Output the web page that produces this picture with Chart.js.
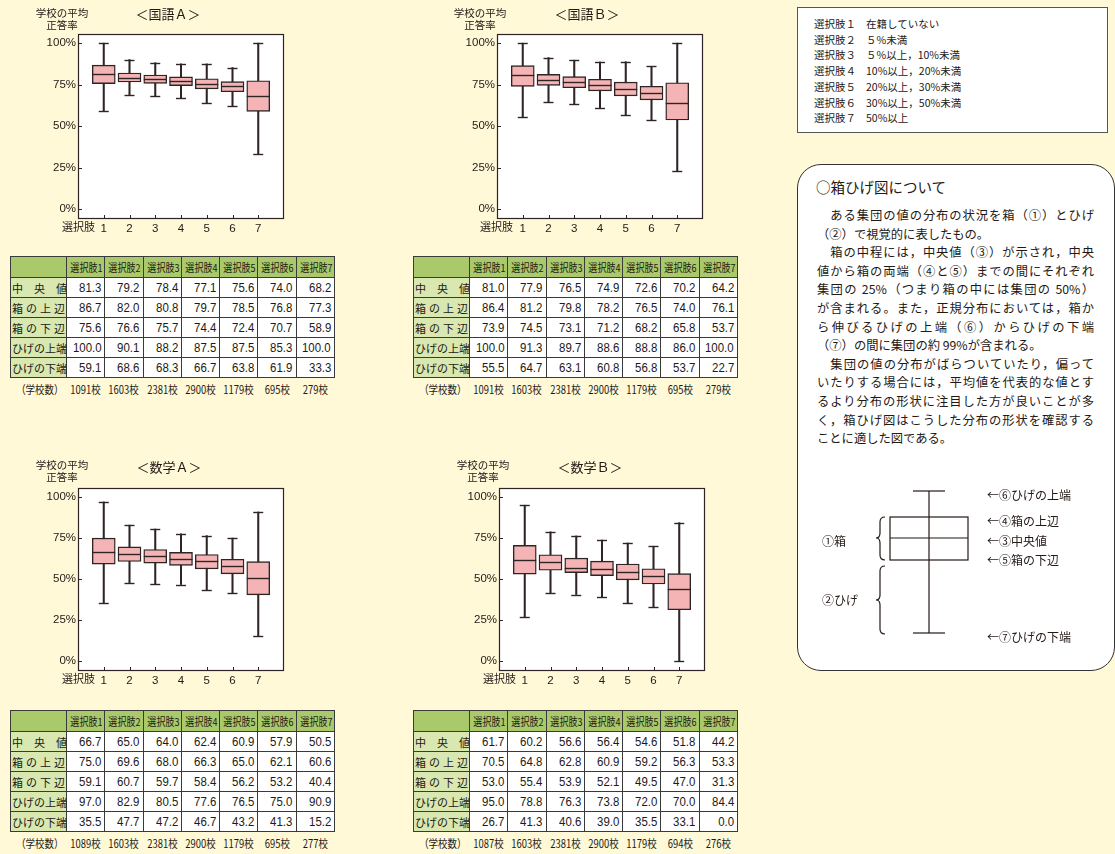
<!DOCTYPE html>
<html lang="ja">
<head>
<meta charset="utf-8">
<script src="https://cdn.jsdelivr.net/npm/chart.js@4.4.1/dist/chart.umd.min.js"></script>
<style>
  body { margin:0; width:1115px; height:854px; background:#fff9d8; position:relative; overflow:hidden;
         font-family:"Noto Sans CJK JP", sans-serif; color:#231815; }
  .chartbox { position:absolute; width:300px; height:240px; }
  .ylab { position:absolute; width:70px; font-size:10.5px; line-height:12px; text-align:center; }
  .ttl { position:absolute; width:100px; font-size:13px; line-height:16px; text-align:center; }
  .xlab { position:absolute; font-size:11px; line-height:13px; }
  table.data { position:absolute; width:325px; border-collapse:collapse; table-layout:fixed; }
  table.data th, table.data td { border:1px solid #3a3a3a; padding:0; height:19px; overflow:visible; }
  table.data th.hd { background:#a9c96b; font-weight:normal; font-size:11px; height:20px; text-align:center; white-space:nowrap; }
  table.data th.hd span { display:inline-block; width:100%; text-align:center; transform:scaleX(0.82); white-space:nowrap; }
  table.data th.corner { background:#a9c96b; }
  table.data th.rh { background:#d8e8b0; font-weight:normal; font-size:11px; text-align:justify; text-align-last:justify; padding:0 1px; white-space:nowrap; }
  table.data td.v { background:#fff; text-align:right; padding-right:3px; font-family:"Liberation Sans", Arial, sans-serif; font-size:13px; white-space:nowrap; }
  table.data td.v span { display:inline-block; transform:scaleX(0.88); transform-origin:right center; }
  table.data tr.cnt td { border:none; font-size:11.5px; text-align:center; height:21px; background:transparent; white-space:nowrap; }
  table.data tr.cnt td span { display:inline-block; transform:scaleX(0.82); }
  #legendbox { position:absolute; left:797px; top:7px; width:309px; height:124px; background:#fff; border:1px solid #555; }
  #legendbox .ln { position:absolute; left:16px; font-size:10.5px; line-height:14px; white-space:nowrap; }
  #legendbox .ln span { display:inline-block; width:52px; }
  #explain { position:absolute; left:797px; top:164px; width:318px; height:507px; background:#fff; border:1px solid #333; border-radius:24px; box-sizing:border-box; }
  #explain .h { position:absolute; left:18px; top:13px; font-size:14.5px; line-height:18px; }
  #explain .para { position:absolute; left:19px; top:41px; width:277px; font-size:12.3px; line-height:18.6px; }
  #explain .para div { text-align:justify; text-align-last:justify; white-space:nowrap; }
  #explain .para div.end { text-align-last:left; }
  svg#diagram { position:absolute; left:0; top:0; }
  svg#diagram text { font-family:"Noto Sans CJK JP", sans-serif; font-size:12px; fill:#231815; dominant-baseline:central; }
</style>
</head>
<body>

<!-- charts -->
<canvas id="kA" class="chartbox" width="300" height="240" style="left:0;top:0"></canvas>
<canvas id="kB" class="chartbox" width="300" height="240" style="left:419px;top:0"></canvas>
<canvas id="mA" class="chartbox" width="300" height="240" style="left:0;top:454px"></canvas>
<canvas id="mB" class="chartbox" width="300" height="240" style="left:421px;top:454px"></canvas>

<div class="ylab" style="left:27px;top:7px">学校の平均<br>正答率</div>
<div class="ylab" style="left:445px;top:7px">学校の平均<br>正答率</div>
<div class="ylab" style="left:27px;top:459px">学校の平均<br>正答率</div>
<div class="ylab" style="left:448px;top:459px">学校の平均<br>正答率</div>

<div class="ttl" style="left:118px;top:6px">＜国語Ａ＞</div>
<div class="ttl" style="left:537px;top:6px">＜国語Ｂ＞</div>
<div class="ttl" style="left:119px;top:459px">＜数学Ａ＞</div>
<div class="ttl" style="left:540px;top:459px">＜数学Ｂ＞</div>

<div class="xlab" style="left:62px;top:220px">選択肢</div>
<div class="xlab" style="left:480px;top:220px">選択肢</div>
<div class="xlab" style="left:62px;top:672px">選択肢</div>
<div class="xlab" style="left:483px;top:672px">選択肢</div>

<table class="data" id="tkA" style="left:10px;top:256px"></table>
<table class="data" id="tkB" style="left:413px;top:256px"></table>
<table class="data" id="tmA" style="left:10px;top:710px"></table>
<table class="data" id="tmB" style="left:413px;top:710px"></table>

<div id="legendbox"></div>

<div id="explain">
  <div class="h">○箱ひげ図について</div>
  <div class="para">
    <div>　ある集団の値の分布の状況を箱（①）とひげ</div>
    <div class="end">（②）で視覚的に表したもの。</div>
    <div>　箱の中程には，中央値（③）が示され，中央</div>
    <div>値から箱の両端（④と⑤）までの間にそれぞれ</div>
    <div>集団の 25%（つまり箱の中には集団の 50%）</div>
    <div>が含まれる。また，正規分布においては，箱か</div>
    <div>ら伸びるひげの上端（⑥）からひげの下端</div>
    <div class="end">（⑦）の間に集団の約 99%が含まれる。</div>
    <div>　集団の値の分布がばらついていたり，偏って</div>
    <div>いたりする場合には，平均値を代表的な値とす</div>
    <div>るより分布の形状に注目した方が良いことが多</div>
    <div>く，箱ひげ図はこうした分布の形状を確認する</div>
    <div class="end">ことに適した図である。</div>
  </div>
</div>

<svg id="diagram" width="1115" height="854">
  <g stroke="#231815" stroke-width="1.2" fill="none">
    <line x1="929" y1="491" x2="929" y2="633"/>
    <line x1="913" y1="491" x2="945" y2="491"/>
    <line x1="913" y1="633" x2="945" y2="633"/>
    <rect x="890" y="517" width="78" height="43"/>
    <line x1="890" y1="538" x2="968" y2="538"/>
    <path d="M885,517 Q880,517 880,522 L880,533 Q880,538 876,538 Q880,538 880,543 L880,555 Q880,560 885,560"/>
    <path d="M885,566 Q880,566 880,571 L880,595 Q880,600 876,600 Q880,600 880,605 L880,629 Q880,634 885,634"/>
  </g>
  <text x="822" y="540">①箱</text>
  <text x="822" y="599">②ひげ</text>
  <text x="987" y="494">←⑥ひげの上端</text>
  <text x="987" y="520">←④箱の上辺</text>
  <text x="987" y="540">←③中央値</text>
  <text x="987" y="559">←⑤箱の下辺</text>
  <text x="987" y="636">←⑦ひげの下端</text>
</svg>

<script>
// categories / labels
const choices = ['1', '2', '3', '4', '5', '6', '7'];
const colHeads = ['選択肢1', '選択肢2', '選択肢3', '選択肢4', '選択肢5', '選択肢6', '選択肢7'];
const rowLabels = ['中　央　値', '箱の上辺', '箱の下辺', 'ひげの上端', 'ひげの下端'];
const yTicks = [0, 25, 50, 75, 100];
const choiceDescs = ['在籍していない', '５%未満', '５%以上，10%未満', '10%以上，20%未満',
                     '20%以上，30%未満', '30%以上，50%未満', '50%以上'];

// 国語A
const kokugoA_median = [81.3, 79.2, 78.4, 77.1, 75.6, 74.0, 68.2];
const kokugoA_q3     = [86.7, 82.0, 80.8, 79.7, 78.5, 76.8, 77.3];
const kokugoA_q1     = [75.6, 76.6, 75.7, 74.4, 72.4, 70.7, 58.9];
const kokugoA_max    = [100.0, 90.1, 88.2, 87.5, 87.5, 85.3, 100.0];
const kokugoA_min    = [59.1, 68.6, 68.3, 66.7, 63.8, 61.9, 33.3];
const kokugoA_n      = [1091, 1603, 2381, 2900, 1179, 695, 279];

// 国語B
const kokugoB_median = [81.0, 77.9, 76.5, 74.9, 72.6, 70.2, 64.2];
const kokugoB_q3     = [86.4, 81.2, 79.8, 78.2, 76.5, 74.0, 76.1];
const kokugoB_q1     = [73.9, 74.5, 73.1, 71.2, 68.2, 65.8, 53.7];
const kokugoB_max    = [100.0, 91.3, 89.7, 88.6, 88.8, 86.0, 100.0];
const kokugoB_min    = [55.5, 64.7, 63.1, 60.8, 56.8, 53.7, 22.7];
const kokugoB_n      = [1091, 1603, 2381, 2900, 1179, 695, 279];

// 数学A
const sugakuA_median = [66.7, 65.0, 64.0, 62.4, 60.9, 57.9, 50.5];
const sugakuA_q3     = [75.0, 69.6, 68.0, 66.3, 65.0, 62.1, 60.6];
const sugakuA_q1     = [59.1, 60.7, 59.7, 58.4, 56.2, 53.2, 40.4];
const sugakuA_max    = [97.0, 82.9, 80.5, 77.6, 76.5, 75.0, 90.9];
const sugakuA_min    = [35.5, 47.7, 47.2, 46.7, 43.2, 41.3, 15.2];
const sugakuA_n      = [1089, 1603, 2381, 2900, 1179, 695, 277];

// 数学B
const sugakuB_median = [61.7, 60.2, 56.6, 56.4, 54.6, 51.8, 44.2];
const sugakuB_q3     = [70.5, 64.8, 62.8, 60.9, 59.2, 56.3, 53.3];
const sugakuB_q1     = [53.0, 55.4, 53.9, 52.1, 49.5, 47.0, 31.3];
const sugakuB_max    = [95.0, 78.8, 76.3, 73.8, 72.0, 70.0, 84.4];
const sugakuB_min    = [26.7, 41.3, 40.6, 39.0, 35.5, 33.1, 0.0];
const sugakuB_n      = [1087, 1603, 2381, 2900, 1179, 694, 276];

const INK = '#2e2424';
const tickFont = { family: '"Liberation Sans", Arial, sans-serif', size: 11.5 };

// median line, whisker caps, white plot area, frame, inward tick marks
const boxExtras = (median, max, min) => ({
  id: 'boxExtras',
  beforeDatasetsDraw(c) {
    const a = c.chartArea, ctx = c.ctx;
    ctx.save();
    ctx.fillStyle = '#fff';
    ctx.fillRect(a.left, a.top, a.right - a.left, a.bottom - a.top);
    ctx.restore();
  },
  afterDatasetsDraw(c) {
    const ctx = c.ctx, xs = c.scales.x, ys = c.scales.y;
    const bars = c.getDatasetMeta(0).data;
    ctx.save();
    ctx.strokeStyle = INK;
    ctx.lineWidth = 1.4;
    median.forEach((m, i) => {
      const x = xs.getPixelForValue(i + 1);
      const hw = bars[i].width / 2;
      const seg = (x1, x2, v) => {
        const y = Math.round(ys.getPixelForValue(v)) + 0.5;
        ctx.beginPath(); ctx.moveTo(x1, y); ctx.lineTo(x2, y); ctx.stroke();
      };
      seg(x - hw, x + hw, m);
      seg(x - 5, x + 5, max[i]);
      seg(x - 5, x + 5, min[i]);
    });
    ctx.restore();
  },
  afterDraw(c) {
    const a = c.chartArea, ctx = c.ctx, xs = c.scales.x, ys = c.scales.y;
    ctx.save();
    ctx.strokeStyle = INK;
    ctx.lineWidth = 1.2;
    ctx.strokeRect(a.left + 0.5, a.top + 0.5, a.right - a.left - 1, a.bottom - a.top - 1);
    ctx.lineWidth = 1;
    ctx.beginPath();
    yTicks.forEach(v => {
      const y = Math.round(ys.getPixelForValue(v)) + 0.5;
      ctx.moveTo(a.left, y); ctx.lineTo(a.left + 4, y);
    });
    choices.forEach(ch => {
      const x = Math.round(xs.getPixelForValue(+ch)) + 0.5;
      ctx.moveTo(x, a.bottom); ctx.lineTo(x, a.bottom - 4);
    });
    ctx.stroke();
    ctx.restore();
  }
});

function makeChart(id, median, q3, q1, max, min, axisH) {
  const boxes = q1.map((v, i) => ({ x: +choices[i], y: [v, q3[i]] }));
  const whiskers = min.map((v, i) => ({ x: +choices[i], y: [v, max[i]] }));
  return new Chart(document.getElementById(id), {
    type: 'bar',
    data: {
      datasets: [
        { data: boxes, backgroundColor: '#f4b3b5', borderColor: INK, borderWidth: 1.4,
          borderSkipped: false, barThickness: 23, grouped: false, order: 0 },
        { data: whiskers, backgroundColor: INK, borderWidth: 0,
          barThickness: 1.4, grouped: false, order: 1 }
      ]
    },
    options: {
      responsive: false,
      animation: false,
      events: [],
      layout: { padding: { top: 34, right: 16, left: 0, bottom: 0 } },
      plugins: { legend: { display: false }, tooltip: { enabled: false } },
      scales: {
        x: {
          type: 'linear', min: 0, max: 8, offset: false,
          grid: { display: false, drawTicks: false }, border: { display: false },
          afterBuildTicks: ax => { ax.ticks = choices.map(ch => ({ value: +ch })); },
          afterFit: ax => { ax.height = axisH; },
          ticks: { padding: 3, font: tickFont, color: '#231815', autoSkip: false, maxRotation: 0,
                   callback: v => String(v) }
        },
        y: {
          min: -6, max: 105.5,
          grid: { display: false, drawTicks: false }, border: { display: false },
          afterBuildTicks: ax => { ax.ticks = yTicks.map(v => ({ value: v })); },
          afterFit: ax => { ax.width = 78; },
          ticks: { padding: 2, font: tickFont, color: '#231815', callback: v => v + '%' }
        }
      }
    },
    plugins: [boxExtras(median, max, min)]
  });
}

makeChart('kA', kokugoA_median, kokugoA_q3, kokugoA_q1, kokugoA_max, kokugoA_min, 21);
makeChart('kB', kokugoB_median, kokugoB_q3, kokugoB_q1, kokugoB_max, kokugoB_min, 21);
makeChart('mA', sugakuA_median, sugakuA_q3, sugakuA_q1, sugakuA_max, sugakuA_min, 23);
makeChart('mB', sugakuB_median, sugakuB_q3, sugakuB_q1, sugakuB_max, sugakuB_min, 23);

function buildTable(id, median, q3, q1, max, min, counts) {
  const rows = [median, q3, q1, max, min];
  let html = '<colgroup><col style="width:56px">' + colHeads.map(() => '<col>').join('') + '</colgroup>';
  html += '<tr><th class="corner"></th>' + colHeads.map(h => `<th class="hd"><span>${h}</span></th>`).join('') + '</tr>';
  rows.forEach((r, k) => {
    html += `<tr><th class="rh">${rowLabels[k]}</th>` + r.map(v => `<td class="v"><span>${v.toFixed(1)}</span></td>`).join('') + '</tr>';
  });
  html += '<tr class="cnt"><td><span>（学校数）</span></td>' + counts.map(n => `<td><span>${n}校</span></td>`).join('') + '</tr>';
  document.getElementById(id).innerHTML = html;
}

buildTable('tkA', kokugoA_median, kokugoA_q3, kokugoA_q1, kokugoA_max, kokugoA_min, kokugoA_n);
buildTable('tkB', kokugoB_median, kokugoB_q3, kokugoB_q1, kokugoB_max, kokugoB_min, kokugoB_n);
buildTable('tmA', sugakuA_median, sugakuA_q3, sugakuA_q1, sugakuA_max, sugakuA_min, sugakuA_n);
buildTable('tmB', sugakuB_median, sugakuB_q3, sugakuB_q1, sugakuB_max, sugakuB_min, sugakuB_n);

// choice legend box
const lb = document.getElementById('legendbox');
choiceDescs.forEach((t, i) => {
  const d = document.createElement('div');
  d.className = 'ln';
  d.style.top = (9 + i * 15.7) + 'px';
  d.innerHTML = `<span>選択肢${'１２３４５６７'[i]}</span>${t}`;
  lb.appendChild(d);
});
</script>
</body>
</html>
